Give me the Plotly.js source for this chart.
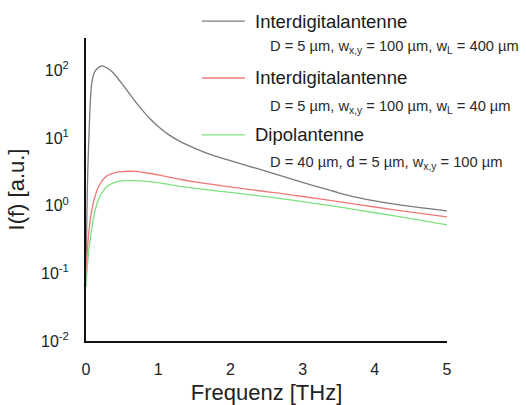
<!DOCTYPE html>
<html>
<head>
<meta charset="utf-8">
<script src="https://cdn.plot.ly/plotly-3.0.1.min.js"></script>
<style>
  html, body { margin: 0; padding: 0; background: #ffffff; }
  #chart { width: 526px; height: 405px; }
</style>
</head>
<body>
<div id="chart"></div>
<script>
// Spectra I(f) of three THz antenna layouts
var freqGrey = [0, 0.01, 0.02, 0.03, 0.04, 0.05, 0.06, 0.07, 0.087, 0.12, 0.16, 0.2, 0.23, 0.28, 0.34, 0.42, 0.5, 0.6, 0.7, 0.8, 0.9, 1.0, 1.15, 1.3, 1.5, 1.75, 2.0, 2.25, 2.5, 2.75, 3.0, 3.25, 3.5, 3.75, 4.0, 4.25, 4.5, 4.75, 5.0];
var intensityGrey = [0.1, 0.5, 2.0, 5.0, 10, 20, 35, 52, 72, 95, 107, 114, 116, 110, 100, 81, 63, 45.2, 32.7, 24.3, 18.6, 14.8, 11.1, 8.9, 7.08, 5.56, 4.62, 3.85, 3.2, 2.66, 2.21, 1.84, 1.55, 1.33, 1.175, 1.06, 0.973, 0.902, 0.836];

var freqRed = [0, 0.01, 0.02, 0.03, 0.045, 0.06, 0.087, 0.12, 0.157, 0.2, 0.25, 0.3, 0.39, 0.5, 0.6, 0.7, 0.8, 1.0, 1.3, 1.6, 2.0, 2.4, 2.7, 3.0, 3.5, 4.0, 4.5, 5.0];
var intensityRed = [0.079, 0.141, 0.224, 0.316, 0.468, 0.631, 0.933, 1.318, 1.738, 2.138, 2.512, 2.786, 3.055, 3.184, 3.221, 3.199, 3.09, 2.851, 2.455, 2.163, 1.888, 1.66, 1.514, 1.365, 1.148, 0.955, 0.804, 0.681];

var freqGreen = [0, 0.015, 0.03, 0.045, 0.065, 0.09, 0.11, 0.15, 0.18, 0.22, 0.3, 0.43, 0.55, 0.76, 1.0, 1.3, 1.6, 2.0, 2.4, 2.7, 3.0, 3.5, 4.0, 4.5, 5.0];
var intensityGreen = [0.063, 0.112, 0.178, 0.251, 0.355, 0.537, 0.708, 1.047, 1.288, 1.549, 1.95, 2.265, 2.344, 2.317, 2.188, 1.928, 1.758, 1.567, 1.396, 1.274, 1.148, 0.959, 0.785, 0.641, 0.52];

var seriesNames = ['Interdigitalantenne', 'Interdigitalantenne', 'Dipolantenne'];
var seriesParams = [
  'D = 5 µm, w<sub>x,y</sub> = 100 µm, w<sub>L</sub> = 400 µm',
  'D = 5 µm, w<sub>x,y</sub> = 100 µm, w<sub>L</sub> = 40 µm',
  'D = 40 µm, d = 5 µm, w<sub>x,y</sub> = 100 µm'
];
var seriesColors = ['#7a7a7a', '#f07878', '#7ee07e'];

var xTickVals = [0, 1, 2, 3, 4, 5];
var xMinorVals = [0.5, 1.5, 2.5, 3.5, 4.5];
var yTickVals = [0.01, 0.1, 1, 10, 100];
var yTickText = ['10<sup>-2</sup>', '10<sup>-1</sup>', '10<sup>0</sup>', '10<sup>1</sup>', '10<sup>2</sup>'];

// minor log ticks 2..9 per decade, up to the top of the axis (300)
var yMinor = [];
for (var d = -2; d <= 2; d++) {
  for (var k = 2; k <= 9; k++) {
    var v = k * Math.pow(10, d);
    if (v <= 300.5) yMinor.push(v);
  }
}
var xRange = [0, 5];
var yRange = [-2, Math.log10(300)];

var W = 526, H = 405;
var margin = { l: 86, r: 79, t: 38, b: 64 };
var plotW = W - margin.l - margin.r;
var plotH = H - margin.t - margin.b;

var xs = [freqGrey, freqRed, freqGreen];
var ys = [intensityGrey, intensityRed, intensityGreen];
var traces = [];
for (var i = 0; i < 3; i++) {
  traces.push({
    x: xs[i], y: ys[i], type: 'scatter', mode: 'lines',
    name: seriesNames[i],
    line: { color: seriesColors[i], width: 1.3, shape: 'spline', smoothing: 0.7 },
    showlegend: false, hoverinfo: 'skip'
  });
}

// tick marks: short line markers sitting just outside each axis line
var pxPerX = plotW / (xRange[1] - xRange[0]);
var pxPerDecade = plotH / (yRange[1] - yRange[0]);
function belowXAxis(px) { return Math.pow(10, yRange[0] - px / pxPerDecade); }
function leftOfYAxis(px) { return xRange[0] - px / pxPerX; }
function tickTrace(x, y, symbol, len, width) {
  return {
    x: x, y: y, type: 'scatter', mode: 'markers', cliponaxis: false,
    marker: { symbol: symbol, size: len, color: '#111', line: { color: '#111', width: width } },
    showlegend: false, hoverinfo: 'skip'
  };
}
function fill(n, val) { var a = []; for (var q = 0; q < n; q++) a.push(val); return a; }
traces.push(tickTrace(xTickVals, fill(xTickVals.length, belowXAxis(5.5)), 'line-ns', 9, 2));
traces.push(tickTrace(xMinorVals, fill(xMinorVals.length, belowXAxis(3.5)), 'line-ns', 5, 2));
traces.push(tickTrace(fill(yTickVals.length, leftOfYAxis(5.5)), yTickVals, 'line-ew', 9, 2));
traces.push(tickTrace(fill(yMinor.length, leftOfYAxis(3.5)), yMinor, 'line-ew', 5, 1.5));

var shapes = [];
var annotations = [];

// legend drawn as line swatches with two-line captions
var legendLineY = [1.056, 0.868, 0.680];
var legendSubY = [0.970, 0.772, 0.587];
for (var j = 0; j < 3; j++) {
  shapes.push({
    type: 'line', xref: 'paper', yref: 'paper',
    x0: 0.321, x1: 0.440, y0: legendLineY[j], y1: legendLineY[j],
    line: { color: seriesColors[j], width: 1.3 }
  });
  annotations.push({
    xref: 'paper', yref: 'paper', x: 0.463, y: legendLineY[j],
    xanchor: 'left', yanchor: 'middle', showarrow: false,
    text: seriesNames[j],
    font: { family: 'Liberation Sans, Arial, sans-serif', size: 18.5, color: '#1a1a1a' }
  });
  annotations.push({
    xref: 'paper', yref: 'paper', x: 0.504, y: legendSubY[j],
    xanchor: 'left', yanchor: 'middle', showarrow: false,
    text: seriesParams[j],
    font: { family: 'Liberation Sans, Arial, sans-serif', size: 14.7, color: '#2a2a2a' }
  });
}

var layout = {
  width: W, height: H,
  margin: { l: margin.l, r: margin.r, t: margin.t, b: margin.b, pad: 0 },
  paper_bgcolor: '#ffffff', plot_bgcolor: '#ffffff',
  font: { family: 'Liberation Sans, Arial, sans-serif', color: '#1a1a1a' },
  showlegend: false,
  xaxis: {
    range: xRange, showgrid: false, zeroline: false,
    showline: true, linecolor: '#111', linewidth: 2, mirror: false,
    tickmode: 'array', tickvals: xTickVals,
    ticks: '', ticklabelstandoff: 13,
    tickfont: { size: 16, color: '#222' },
    title: { text: 'Frequenz [THz]', font: { size: 22, color: '#222' }, standoff: 9 }
  },
  yaxis: {
    type: 'log', range: yRange, showgrid: false, zeroline: false,
    showline: true, linecolor: '#111', linewidth: 2, mirror: false,
    tickmode: 'array', tickvals: yTickVals, ticktext: yTickText,
    ticks: '', ticklabelstandoff: 12,
    tickfont: { size: 16, color: '#222' },
    title: { text: 'I(f) [a.u.]', font: { size: 22, color: '#222' }, standoff: 10 }
  },
  shapes: shapes,
  annotations: annotations
};

Plotly.newPlot('chart', traces, layout, { displayModeBar: false, staticPlot: true });
</script>
</body>
</html>
